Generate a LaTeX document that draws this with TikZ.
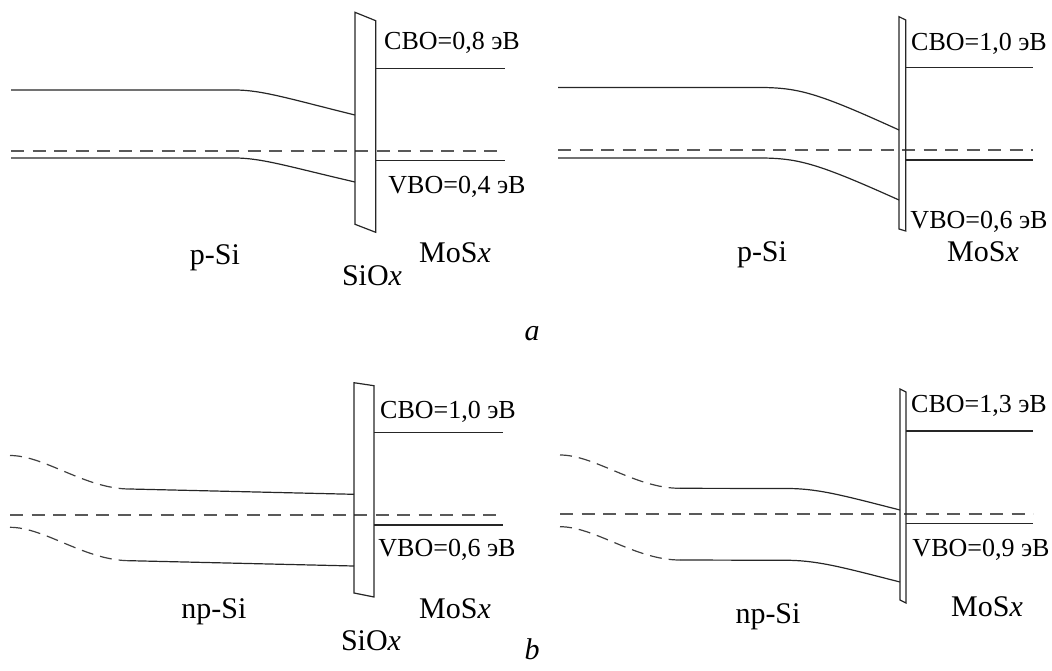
\documentclass[tikz,border=0pt]{standalone}
\usepackage{fontspec}
\setmainfont{Liberation Serif}
\begin{document}
\begin{tikzpicture}[x=1pt,y=-1pt,
  band/.style={line width=1.2pt,draw=black!85},
  fermi/.style={line width=1.2pt,draw=black!65,dash pattern=on 13pt off 8.5pt},
  tail/.style={line width=1.2pt,draw=black!75,dash pattern=on 12pt off 7pt},
  oxide/.style={line width=1.2pt,draw=black!85,line join=miter},
  offset/.style={font=\fontsize{26}{31}\selectfont,anchor=base,inner sep=0pt},
  layer/.style={font=\fontsize{30}{36}\selectfont,anchor=base,inner sep=0pt}]
\useasboundingbox (0,0) rectangle (1052,670);

% ---------- (a) left: p-Si / SiOx / MoSx ----------
\draw[band] (11,90) -- (235,90) .. controls (262,90) and (290,99) .. (355,115);
\draw[band] (11,158) -- (235,158) .. controls (262,158) and (290,167) .. (355,182);
\draw[fermi] (11,151) -- (505,151);
\draw[band] (376,68.7) -- (505,68.7);
\draw[band] (376,160.7) -- (505,160.7);
\draw[oxide] (355,12.3) -- (375.7,20.7) -- (375.7,232.3) -- (355,224.3) -- cycle;
\node[offset] (cboA1) at (452,49.3) {CBO=0,8 эВ};
\node[offset] (vboA1) at (457,193.3) {VBO=0,4 эВ};
\node[layer] (siA1) at (215,264) {p-Si};
\node[layer] (mosA1) at (455,262) {MoS\textit{x}};
\node[layer] (oxA1) at (372,285) {SiO\textit{x}};

% ---------- (a) right: p-Si / MoSx ----------
\draw[band] (558,87.5) -- (763,87.5) .. controls (800,88) and (820,94) .. (899,130);
\draw[band] (558,158) -- (763,158) .. controls (800,158.5) and (820,164.5) .. (899,200);
\draw[fermi] (558,150) -- (1033,150);
\draw[band] (906,67.7) -- (1033,67.7);
\draw[band] (906,160) -- (1033,160);
\draw[oxide] (899,16.7) -- (905.7,20) -- (905.7,231) -- (899,229) -- cycle;
\node[offset] (cboA2) at (979,50.7) {CBO=1,0 эВ};
\node[offset] (vboA2) at (979,228.3) {VBO=0,6 эВ};
\node[layer] (siA2) at (762,261.7) {p-Si};
\node[layer] (mosA2) at (983,261.7) {MoS\textit{x}};

\node[layer,font=\fontsize{30}{36}\selectfont\itshape] (capA) at (532,340) {a};

% ---------- (b) left: np-Si / SiOx / MoSx ----------
\draw[tail] (10,455.5) .. controls (45,455.5) and (85,489) .. (130,489);
\draw[band] (130,489) -- (354,494.3);
\draw[tail] (10,527.3) .. controls (45,527.3) and (85,560.7) .. (130,560.7);
\draw[band] (130,560.7) -- (354,566);
\draw[fermi] (10,515) -- (503,515);
\draw[band] (374,432.7) -- (503,432.7);
\draw[band] (374,525) -- (503,525);
\draw[oxide] (354,382.7) -- (374,385.7) -- (374,597) -- (354,593) -- cycle;
\node[offset] (cboB1) at (448,418.3) {CBO=1,0 эВ};
\node[offset] (vboB1) at (447,556) {VBO=0,6 эВ};
\node[layer] (siB1) at (214,618) {np-Si};
\node[layer] (mosB1) at (455,618) {MoS\textit{x}};
\node[layer] (oxB1) at (371,650) {SiO\textit{x}};

% ---------- (b) right: np-Si / MoSx ----------
\draw[tail] (560,455) .. controls (595,455) and (635,488.3) .. (680,488.3);
\draw[band] (680,488.3) -- (790,488.5) .. controls (820,489) and (845,496) .. (900,510);
\draw[tail] (560,526.7) .. controls (595,526.7) and (635,560) .. (680,560);
\draw[band] (680,560) -- (790,560.3) .. controls (820,561) and (845,568) .. (900,582);
\draw[fermi] (560,514) -- (1033,514);
\draw[band] (906,431) -- (1033,431);
\draw[band] (906,523.3) -- (1033,523.3);
\draw[oxide] (900,389) -- (906,392) -- (906,603) -- (900,600) -- cycle;
\node[offset] (cboB2) at (979,412.7) {CBO=1,3 эВ};
\node[offset] (vboB2) at (981,556.7) {VBO=0,9 эВ};
\node[layer] (siB2) at (768,623) {np-Si};
\node[layer] (mosB2) at (987,616.7) {MoS\textit{x}};

\node[layer,font=\fontsize{30}{36}\selectfont\itshape] (capB) at (532,659) {b};
\end{tikzpicture}
\end{document}
